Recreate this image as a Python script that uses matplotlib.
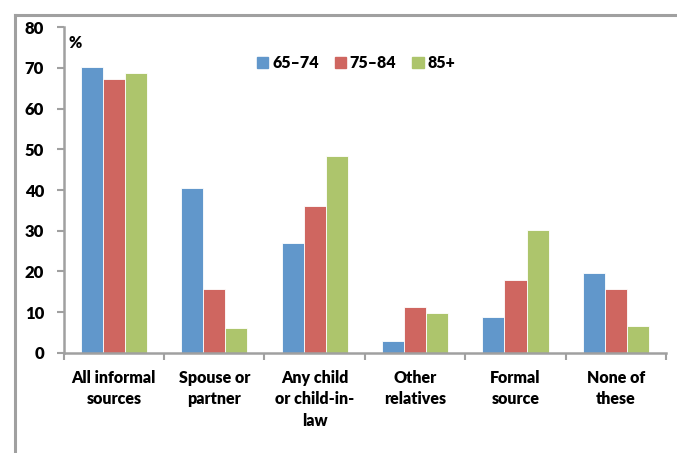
import matplotlib
matplotlib.use("Agg")
import matplotlib.pyplot as plt
import numpy as np
from matplotlib.lines import Line2D
import matplotlib.patches as pt

# share of people getting help, by source and age group (%)
categories = ["All informal\nsources", "Spouse or\npartner", "Any child\nor child-in-\nlaw",
              "Other\nrelatives", "Formal\nsource", "None of\nthese"]
age_groups = ["65\u201374", "75\u201384", "85+"]
age_65_74 = [70.2, 40.6, 27.0, 2.8, 8.9, 19.5]
age_75_84 = [67.3, 15.8, 36.2, 11.2, 18.0, 15.8]
age_85_up = [68.7, 6.0, 48.3, 9.7, 30.1, 6.7]
yticks = [0, 10, 20, 30, 40, 50, 60, 70, 80]

plt.rcParams['font.family'] = ['Lato', 'DejaVu Sans']
plt.rcParams['font.weight'] = 'heavy'
fs = 11.5

colors = ["#6197cb", "#cf6660", "#adc56c"]
grey = "#a0a0a0"

fig = plt.figure(figsize=(6.77, 4.53), dpi=100)
ax = fig.add_axes([0.094, 0.221, 0.890, 0.719])

x = np.arange(len(categories))
w = 0.22
series = [age_65_74, age_75_84, age_85_up]
patch = [None] * len(series)
for i, vals in enumerate(series):
	ax.bar(x + (i - 1) * w, vals, w, color=colors[i], edgecolor="white", linewidth=0.6)
	patch[i] = pt.Patch(color=colors[i], label=age_groups[i])

ax.set_xlim(-0.5, len(categories) - 0.5)
ax.set_ylim(0, 80)
ax.set_yticks(yticks)
ax.set_xticks(x)
ax.set_xticklabels(categories, fontsize=fs, fontweight='heavy', linespacing=1.45)
ax.set_xticks(np.arange(len(categories) + 1) - 0.5, minor=True)
ax.tick_params(axis='x', which='major', length=0, pad=12)
ax.tick_params(axis='x', which='minor', length=5, width=1.5, color=grey, direction='out')
ax.tick_params(axis='y', length=5, width=1.5, color=grey, labelsize=fs + 0.5, pad=9)
for lab in ax.get_yticklabels():
	lab.set_fontweight('heavy')

for s in ['top', 'right']:
	ax.spines[s].set_visible(False)
for s in ['left', 'bottom']:
	ax.spines[s].set_color(grey)
	ax.spines[s].set_linewidth(1.8)

ax.text(0.008, 0.975, "%", transform=ax.transAxes, fontsize=fs, fontweight='heavy', va='top')

fig.legend(handles=patch, loc='center', bbox_to_anchor=(0.526, 0.861), ncol=3, frameon=False,
		   handlelength=0.7, handleheight=0.7, handletextpad=0.25, columnspacing=1.0,
		   prop={'weight': 'heavy', 'size': fs})

# outer border pieces (top and left)
fig.add_artist(Line2D([0.0222, 1.0], [0.967, 0.967], transform=fig.transFigure, color=grey, linewidth=2.2))
fig.add_artist(Line2D([0.0222, 0.0222], [0.0, 0.967], transform=fig.transFigure, color=grey, linewidth=2.2))

fig.savefig("out.png", dpi=100)
